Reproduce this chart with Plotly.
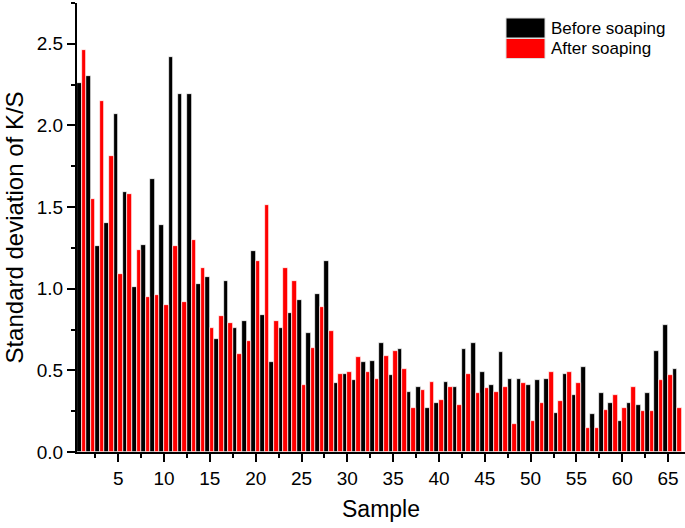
import plotly.graph_objects as go

samples = list(range(1, 67))
before_soaping = [2.26, 2.30, 1.26, 1.40, 2.07, 1.59, 1.01, 1.27, 1.67, 1.39,
                  2.42, 2.19, 2.19, 1.03, 1.07, 0.69, 1.05, 0.76, 0.80, 1.23,
                  0.84, 0.55, 0.76, 0.85, 0.93, 0.73, 0.97, 1.17, 0.42, 0.48,
                  0.44, 0.55, 0.56, 0.67, 0.47, 0.63, 0.37, 0.40, 0.27, 0.30,
                  0.43, 0.40, 0.63, 0.67, 0.49, 0.41, 0.61, 0.45, 0.45, 0.41,
                  0.44, 0.45, 0.24, 0.48, 0.35, 0.52, 0.23, 0.36, 0.30, 0.19,
                  0.30, 0.29, 0.36, 0.62, 0.78, 0.51]
after_soaping = [2.46, 1.55, 2.15, 1.81, 1.09, 1.58, 1.24, 0.95, 0.96, 0.90,
                 1.26, 0.92, 1.30, 1.13, 0.76, 0.83, 0.79, 0.60, 0.68, 1.17,
                 1.51, 0.80, 1.13, 1.05, 0.41, 0.64, 0.89, 0.74, 0.48, 0.49,
                 0.58, 0.49, 0.45, 0.59, 0.62, 0.51, 0.27, 0.38, 0.43, 0.32,
                 0.40, 0.29, 0.48, 0.36, 0.39, 0.37, 0.40, 0.17, 0.42, 0.19,
                 0.30, 0.49, 0.31, 0.49, 0.42, 0.15, 0.15, 0.26, 0.35, 0.27,
                 0.40, 0.25, 0.25, 0.44, 0.47, 0.27]
series_names = ["Before soaping", "After soaping"]
series_colors = ["#000000", "#ff0000"]

FONT = "Liberation Sans, Arial, sans-serif"

fig = go.Figure()
for name, vals, col in zip(series_names, [before_soaping, after_soaping], series_colors):
    fig.add_trace(go.Bar(x=samples, y=vals, name=name, showlegend=False,
                         marker=dict(color=col, line=dict(color="white", width=0.7))))

# custom legend (large colour boxes like the original)
legend_y = [(18, 38), (38.5, 58.5)]
plot_l, plot_r, plot_t, plot_b = 77, 685, 3, 452
def px_x(p):
    return (p - plot_l) / (plot_r - plot_l)
def px_y(p):
    return (plot_b - p) / (plot_b - plot_t)
for (y0, y1), name, col in zip(legend_y, series_names, series_colors):
    fig.add_shape(type="rect", xref="paper", yref="paper",
                  x0=px_x(506), x1=px_x(545), y0=px_y(y1), y1=px_y(y0),
                  fillcolor=col, line=dict(color="#dddddd", width=1))
    fig.add_annotation(xref="paper", yref="paper", x=px_x(549), y=px_y((y0 + y1) / 2),
                       text=name, showarrow=False, xanchor="left", yanchor="middle",
                       font=dict(family=FONT, size=17, color="black"))

fig.update_layout(
    width=685, height=528,
    margin=dict(l=plot_l, r=685 - plot_r, t=plot_t, b=528 - plot_b),
    paper_bgcolor="white", plot_bgcolor="white",
    barmode="group", bargap=0.0, bargroupgap=0.0,
    font=dict(family=FONT, color="black"),
)
fig.update_xaxes(
    range=[0.5, 66.85], showgrid=False, zeroline=False, automargin=False,
    showline=True, linecolor="black", linewidth=2,
    ticks="outside", ticklen=8, tickwidth=2, tickcolor="black",
    tick0=0, dtick=5, tickfont=dict(size=19),
    minor=dict(dtick=2.5, tick0=0, ticks="outside", ticklen=4, tickwidth=2, tickcolor="black"),
    title=dict(text="Sample", font=dict(size=23), standoff=13),
)
fig.update_yaxes(
    range=[0, 2.75], showgrid=False, zeroline=False, automargin=False,
    showline=True, linecolor="black", linewidth=2,
    ticks="outside", ticklen=8, tickwidth=2, tickcolor="black",
    tick0=0, dtick=0.5, tickformat=".1f", tickfont=dict(size=19),
    minor=dict(dtick=0.25, tick0=0, ticks="outside", ticklen=4, tickwidth=2, tickcolor="black"),
    title=dict(text="Standard deviation of K/S", font=dict(size=24), standoff=6),
)

fig.write_html("out.html", config={"displayModeBar": False},
               post_script="document.body.style.margin='0';document.body.style.overflow='hidden';")
